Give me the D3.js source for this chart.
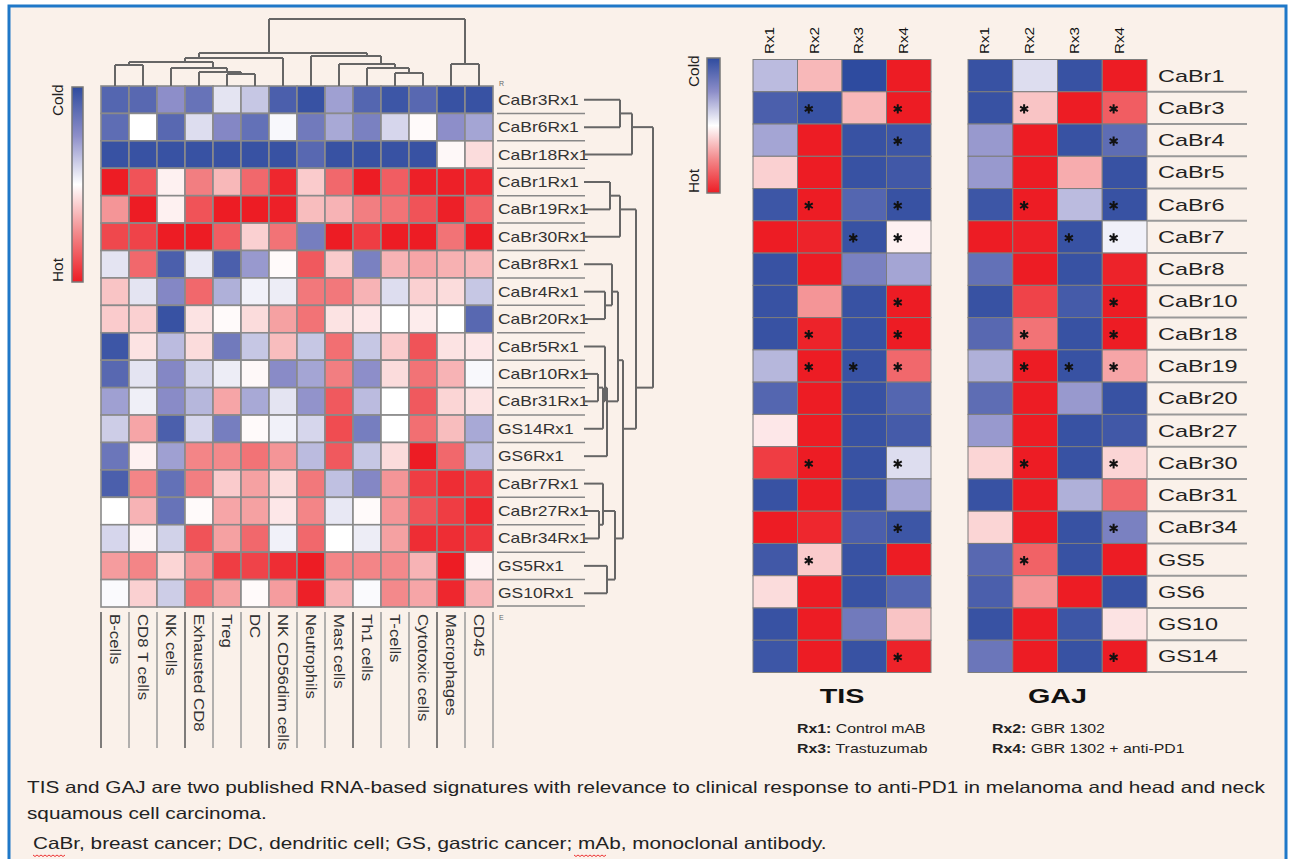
<!DOCTYPE html>
<html>
<head>
<meta charset="utf-8">
<script src="https://cdn.jsdelivr.net/npm/d3@7"></script>
<style>
body { margin: 0; background: #fff; }
svg { display: block; font-family: "Liberation Sans", Arial, sans-serif; }
</style>
</head>
<body>
<svg id="chart" width="1290" height="859"></svg>
<script>
// ---- data ----
const cellTypes = ["B-cells", "CD8 T cells", "NK cells", "Exhausted CD8", "Treg", "DC", "NK CD56dim cells",
    "Neutrophils", "Mast cells", "Th1 cells", "T-cells", "Cytotoxic cells", "Macrophages", "CD45"];

const sampleRows = ["CaBr3Rx1", "CaBr6Rx1", "CaBr18Rx1", "CaBr1Rx1", "CaBr19Rx1", "CaBr30Rx1", "CaBr8Rx1",
    "CaBr4Rx1", "CaBr20Rx1", "CaBr5Rx1", "CaBr10Rx1", "CaBr31Rx1", "GS14Rx1", "GS6Rx1", "CaBr7Rx1",
    "CaBr27Rx1", "CaBr34Rx1", "GS5Rx1", "GS10Rx1"];

// -1 = cold (blue), +1 = hot (red)
const immuneScores = [
    [-0.8, -0.78, -0.5, -0.7, -0.12, -0.25, -0.85, -0.95, -0.42, -0.8, -0.92, -0.78, -0.95, -0.95],
    [-0.75, 0, -0.78, -0.15, -0.55, -0.72, -0.03, -0.65, -0.38, -0.6, -0.18, 0.02, -0.5, -0.4],
    [-0.95, -0.95, -0.95, -0.95, -0.95, -0.95, -0.95, -0.78, -0.95, -0.95, -0.95, -0.95, 0.03, 0.15],
    [1, 0.75, 0.06, 0.55, 0.3, 0.65, 0.95, 0.22, 0.65, 1, 0.7, 0.98, 0.98, 0.95],
    [0.45, 1, 0.06, 0.75, 1, 1, 0.98, 0.28, 0.32, 0.55, 0.6, 0.75, 0.98, 0.68],
    [0.8, 0.82, 1, 1, 0.7, 0.2, 0.6, -0.62, 1, 0.85, 1, 1, 0.6, 1],
    [-0.12, 0.65, -0.85, -0.1, -0.85, -0.45, 0.02, 0.72, 0.22, -0.6, 0.32, 0.38, 0.33, 0.3],
    [0.25, -0.12, -0.55, 0.65, -0.35, -0.06, -0.08, 0.58, 0.58, 0.32, -0.15, 0.2, 0.15, -0.25],
    [0.22, 0.2, -0.95, 0.12, 0.02, 0.15, 0.4, 0.6, 0.12, 0.1, 0, 0.08, 0, -0.78],
    [-0.92, 0.12, -0.3, 0.15, -0.65, -0.25, 0.28, -0.25, 0.62, -0.25, 0.22, 0.75, 0.12, 0.1],
    [-0.78, -0.12, -0.55, -0.2, -0.08, 0.03, -0.52, -0.4, 0.55, -0.5, 0.15, 0.6, 0.32, -0.03],
    [-0.42, -0.07, -0.52, -0.32, 0.38, -0.38, -0.12, -0.48, 0.72, -0.3, 0, 0.72, 0.18, 0.12],
    [-0.22, 0.38, -0.85, -0.18, -0.62, 0.02, -0.06, -0.18, 0.78, -0.62, 0, 0.62, 0.28, -0.38],
    [-0.68, 0.06, -0.42, 0.52, 0.5, 0.6, 0.45, -0.3, 0.72, -0.25, 0.15, 1, 0.65, -0.3],
    [-0.85, 0.52, -0.72, 0.55, 0.22, 0.4, 0.15, 0.58, -0.28, -0.55, 0.45, 0.85, 0.92, 0.88],
    [0, 0.32, -0.7, 0.02, 0.38, 0.4, 0.1, 0.52, -0.1, 0.02, 0.45, 0.75, 0.85, 0.95],
    [-0.18, 0.04, -0.2, 0.75, 0.4, 0.65, -0.06, 0.65, 0, -0.08, 0.4, 0.92, 0.92, 0.88],
    [0.42, 0.52, 0.18, 0.45, 0.85, 0.82, 0.92, 1, 0.52, 0.52, 0.5, 0.32, 1, 0.05],
    [-0.02, 0.2, -0.22, 0.62, 0.4, 0.02, 0.42, 0.98, 0.32, -0.02, 0.5, 0.38, 0.95, 0.32]
];

// dendrograms: {h: merge height, c: children}; leaves are names
const rowTree = {h: 69, c: [
    {h: 48, c: [{h: 36, c: ["CaBr3Rx1", "CaBr6Rx1"]}, "CaBr18Rx1"]},
    {h: 52, c: [
        {h: 36, c: [{h: 26, c: ["CaBr1Rx1", "CaBr19Rx1"]}, "CaBr30Rx1"]},
        {h: 39, c: [
            {h: 34, c: [
                {h: 28, c: ["CaBr8Rx1", {h: 21, c: ["CaBr4Rx1", "CaBr20Rx1"]}]},
                {h: 23, c: [{h: 21, c: ["CaBr5Rx1", {h: 19, c: [{h: 14, c: ["CaBr10Rx1", "CaBr31Rx1"]}, "GS14Rx1"]}]}, "GS6Rx1"]}
            ]},
            {h: 31, c: [
                {h: 19, c: ["CaBr7Rx1", {h: 15, c: ["CaBr27Rx1", "CaBr34Rx1"]}]},
                {h: 23, c: ["GS5Rx1", "GS10Rx1"]}
            ]}
        ]}
    ]}
]};

const colTree = {h: 67, c: [
    {h: 33, c: [
        {h: 28, c: [
            {h: 24, c: [
                {h: 21, c: ["B-cells", "CD8 T cells"]},
                {h: 18, c: ["NK cells", {h: 14, c: ["Exhausted CD8", {h: 12, c: ["Treg", "DC"]}]}]}
            ]},
            "NK CD56dim cells"
        ]},
        {h: 30, c: ["Neutrophils", {h: 22, c: ["Mast cells", {h: 18, c: ["Th1 cells", {h: 13, c: ["T-cells", "Cytotoxic cells"]}]}]}]}
    ]},
    {h: 22, c: ["Macrophages", "CD45"]}
]};

const models = ["CaBr1", "CaBr3", "CaBr4", "CaBr5", "CaBr6", "CaBr7", "CaBr8", "CaBr10", "CaBr18", "CaBr19",
    "CaBr20", "CaBr27", "CaBr30", "CaBr31", "CaBr34", "GS5", "GS6", "GS10", "GS14"];
const treatments = ["Rx1", "Rx2", "Rx3", "Rx4"];

const tisScores = [
    [-0.3, 0.3, -1, 1], [-0.85, -0.95, 0.3, 1], [-0.4, 1, -0.95, -0.92], [0.2, 1, -0.95, -0.9],
    [-0.92, 1, -0.8, -0.95], [1, 0.97, -0.95, 0.06], [-0.95, 1, -0.6, -0.4], [-0.95, 0.45, -0.95, 1],
    [-0.95, 0.97, -0.95, 1], [-0.32, 1, -0.95, 0.65], [-0.8, 1, -0.95, -0.8], [0.1, 1, -0.95, -0.88],
    [0.85, 1, -0.95, -0.15], [-0.95, 1, -0.95, -0.4], [1, 0.95, -0.85, -0.92], [-0.9, 0.22, -0.95, 1],
    [0.15, 1, -0.95, -0.8], [-0.95, 1, -0.65, 0.25], [-0.92, 1, -0.95, 0.97]
];
const gajScores = [
    [-0.95, -0.15, -0.95, 1], [-0.95, 0.25, 1, 0.7], [-0.45, 1, -0.95, -0.75], [-0.45, 1, 0.35, -0.95],
    [-0.92, 1, -0.3, -0.95], [1, 0.98, -0.95, -0.06], [-0.72, 1, -0.95, 0.97], [-0.95, 0.82, -0.88, 1],
    [-0.78, 0.6, -0.95, 1], [-0.35, 1, -0.95, 0.38], [-0.75, 1, -0.45, -0.95], [-0.45, 1, -0.95, -0.9],
    [0.18, 1, -0.95, 0.18], [-0.95, 1, -0.35, 0.65], [0.18, 1, -0.95, -0.6], [-0.78, 0.68, -0.95, 1],
    [-0.85, 0.45, 1, -0.95], [-0.95, 1, -0.92, 0.12], [-0.68, 1, -0.95, 1]
];
// significance marks (1 = asterisk), same for both signatures
const sigMarks = [
    [0,0,0,0], [0,1,0,1], [0,0,0,1], [0,0,0,0], [0,1,0,1], [0,0,1,1], [0,0,0,0], [0,0,0,1],
    [0,1,0,1], [0,1,1,1], [0,0,0,0], [0,0,0,0], [0,1,0,1], [0,0,0,0], [0,0,0,1], [0,1,0,0],
    [0,0,0,0], [0,0,0,0], [0,0,0,1]
];

const legendItems = [
    {key: "Rx1:", text: " Control mAB"}, {key: "Rx2:", text: " GBR 1302"},
    {key: "Rx3:", text: " Trastuzumab"}, {key: "Rx4:", text: " GBR 1302 + anti-PD1"}
];
const captionLines = [
    "TIS and GAJ are two published RNA-based signatures with relevance to clinical response to anti-PD1 in melanoma and head and neck",
    "squamous cell carcinoma.",
    "CaBr, breast cancer; DC, dendritic cell; GS, gastric cancer; mAb, monoclonal antibody."
];

// ---- drawing ----
const svg = d3.select("#chart");
const color = d3.scaleLinear()
    .domain([-1, -0.5, 0, 0.5, 1])
    .range(["#2e4b9f", "#8d8ec9", "#ffffff", "#f3898b", "#ed1c24"])
    .clamp(true);

svg.append("rect").attr("width", 1290).attr("height", 859).attr("fill", "#fff");
svg.append("rect").attr("x", 9).attr("y", 6).attr("width", 1277).attr("height", 880)
    .attr("fill", "#faf1ea").attr("stroke", "#1f78c8").attr("stroke-width", 3);

// stretched text helper
function label(g, x, y, txt, o) {
    o = o || {};
    return g.append("text")
        .attr("transform", `translate(${x},${y}) rotate(${o.rot || 0}) scale(${o.sx || 1},1)`)
        .attr("font-size", o.size || 14)
        .attr("font-weight", o.weight || "normal")
        .attr("text-anchor", o.anchor || "start")
        .attr("fill", o.fill || "#222")
        .text(txt);
}

// gradient for colour bars
const grad = svg.append("defs").append("linearGradient")
    .attr("id", "coldhot").attr("x1", 0).attr("x2", 0).attr("y1", 0).attr("y2", 1);
d3.range(-1, 1.01, 0.25).forEach(v => {
    grad.append("stop").attr("offset", (v + 1) / 2).attr("stop-color", color(v));
});

function colorBar(x, y, w, h, lx) {
    svg.append("rect").attr("x", x).attr("y", y).attr("width", w).attr("height", h)
        .attr("fill", "url(#coldhot)").attr("stroke", "#777").attr("stroke-width", 1.5);
    label(svg, lx, y + 29, "Cold", {rot: -90, size: 14, sx: 1.1});
    label(svg, lx, y + h, "Hot", {rot: -90, size: 14, sx: 1.1});
}
colorBar(72, 87, 11, 195, 63);
colorBar(707, 58, 13, 135, 699);

// ---- left clustered heatmap ----
const hx = d3.scaleBand().domain(cellTypes).range([101, 493]);
const hy = d3.scaleBand().domain(sampleRows).range([86, 607]);

const left = svg.append("g");
sampleRows.forEach((s, i) => {
    left.selectAll(null).data(immuneScores[i]).join("rect")
        .attr("x", (d, j) => hx(cellTypes[j]))
        .attr("y", hy(s))
        .attr("width", hx.bandwidth())
        .attr("height", hy.bandwidth())
        .attr("fill", d => color(d))
        .attr("stroke", "#8a8a8a")
        .attr("stroke-width", 1.6);
});

// row labels and separators
sampleRows.forEach((s, i) => {
    label(left, 498, hy(s) + hy.bandwidth() / 2 + 5, s, {size: 14, sx: 1.25, fill: "#333"});
    if (i > 0) {
        left.append("line").attr("x1", 497).attr("x2", 585)
            .attr("y1", hy(s)).attr("y2", hy(s)).attr("stroke", "#888").attr("stroke-width", 1.5);
    }
});
left.append("line").attr("x1", 497).attr("x2", 585).attr("y1", 606).attr("y2", 606)
    .attr("stroke", "#888").attr("stroke-width", 1.5);
label(left, 499, 86, "R", {size: 7, fill: "#666"});
label(left, 499, 620, "E", {size: 7, fill: "#666"});

// column labels with separating lines
hx.domain().concat([null]).forEach((c, j) => {
    const x = j < cellTypes.length ? hx(c) : hx.range()[1];
    left.append("line").attr("x1", x).attr("x2", x).attr("y1", 612).attr("y2", 748)
        .attr("stroke", j % 3 === 0 ? "#555" : "#999").attr("stroke-width", 1.5);
});
cellTypes.forEach(c => {
    label(left, hx(c) + hx.bandwidth() / 2 - 5, 614, c, {rot: 90, size: 14, sx: 1.2, fill: "#333"});
});

// dendrograms
function layoutTree(node, pos) {
    if (typeof node === "string") return {p: pos(node), h: 0, leaves: [pos(node)]};
    const kids = node.c.map(k => layoutTree(k, pos));
    const leaves = kids.flatMap(k => k.leaves);
    return {p: d3.mean(leaves), h: node.h, leaves: leaves, kids: kids};
}
function drawTree(g, t, seg) {
    if (!t.kids) return;
    t.kids.forEach(k => {
        seg(g, k.p, k.h, k.p, t.h);
        drawTree(g, k, seg);
    });
    const ps = t.kids.map(k => k.p);
    seg(g, d3.min(ps), t.h, d3.max(ps), t.h);
}
const dendroStyle = l => l.attr("stroke", "#666").attr("stroke-width", 2).attr("fill", "none");

const rowT = layoutTree(rowTree, s => hy(s) + hy.bandwidth() / 2);
const rowH = d3.scaleLinear().domain([0, 69]).range([584, 653]);
const rowDendro = svg.append("g");
drawTree(rowDendro, rowT, (g, p1, h1, p2, h2) =>
    g.append("line").attr("x1", rowH(h1)).attr("x2", rowH(h2)).attr("y1", p1).attr("y2", p2).call(dendroStyle));

const colT = layoutTree(colTree, c => hx(c) + hx.bandwidth() / 2);
const colH = d3.scaleLinear().domain([0, 67]).range([86, 19]);
const colDendro = svg.append("g");
drawTree(colDendro, colT, (g, p1, h1, p2, h2) =>
    g.append("line").attr("x1", p1).attr("x2", p2).attr("y1", colH(h1)).attr("y2", colH(h2)).call(dendroStyle));

// ---- TIS and GAJ panels ----
const my = d3.scaleBand().domain(models).range([59.5, 672.5]);
const star = d3.symbol().type(d3.symbolAsterisk).size(60);

function signaturePanel(x0, x1, scores, title) {
    const px = d3.scaleBand().domain(treatments).range([x0, x1]);
    const g = svg.append("g");
    models.forEach((m, i) => {
        g.selectAll(null).data(scores[i]).join("rect")
            .attr("x", (d, j) => px(treatments[j]))
            .attr("y", my(m))
            .attr("width", px.bandwidth())
            .attr("height", my.bandwidth())
            .attr("fill", d => color(d))
            .attr("stroke", "#7d7d7d")
            .attr("stroke-width", 1);
        sigMarks[i].forEach((s, j) => {
            if (!s) return;
            g.append("path").attr("d", star)
                .attr("transform", `translate(${px(treatments[j]) + px.bandwidth() / 2 - 11},${my(m) + my.bandwidth() / 2 + 1})`)
                .attr("stroke", "#111").attr("stroke-width", 2).attr("fill", "none");
        });
    });
    treatments.forEach(t => {
        label(g, px(t) + px.bandwidth() / 2 - 1, 54, t, {rot: -90, size: 13, sx: 1.17, fill: "#111"});
    });
    label(g, (x0 + x1) / 2, 703, title, {size: 21, weight: "bold", anchor: "middle", sx: 1.37, fill: "#111"});
    return px;
}
signaturePanel(753, 931, tisScores, "TIS");
signaturePanel(968, 1147, gajScores, "GAJ");

// GAJ row labels
models.forEach((m, i) => {
    label(svg, 1158, my(m) + my.bandwidth() / 2 + 6, m, {size: 17, sx: 1.38, fill: "#222"});
    if (i > 0) {
        svg.append("line").attr("x1", 1147).attr("x2", 1247).attr("y1", my(m)).attr("y2", my(m))
            .attr("stroke", "#999").attr("stroke-width", 2);
    }
});
svg.append("line").attr("x1", 1147).attr("x2", 1247).attr("y1", 672).attr("y2", 672)
    .attr("stroke", "#999").attr("stroke-width", 2);

// treatment legend
legendItems.forEach((d, i) => {
    const t = svg.append("text")
        .attr("transform", `translate(${i % 2 ? 992 : 797},${733 + Math.floor(i / 2) * 20}) scale(1.22,1)`)
        .attr("font-size", 13).attr("fill", "#222");
    t.append("tspan").attr("font-weight", "bold").text(d.key);
    t.append("tspan").text(d.text);
});

// caption (horizontally stretched like the source figure)
const capPos = [[27, 793], [27, 819], [33, 849]];
captionLines.forEach((c, i) => {
    label(svg, capPos[i][0], capPos[i][1], c, {size: 16.5, sx: 1.257, fill: "#222"});
});
// spell-check squiggles
[[33, 66], [574, 608]].forEach(([a, b]) => {
    const pts = d3.range(a, b, 2).map((x, k) => [x, 855 + (k % 2 ? 1.5 : 0)]);
    svg.append("path").attr("d", d3.line()(pts)).attr("stroke", "#e33").attr("stroke-width", 1).attr("fill", "none");
});
</script>
</body>
</html>
